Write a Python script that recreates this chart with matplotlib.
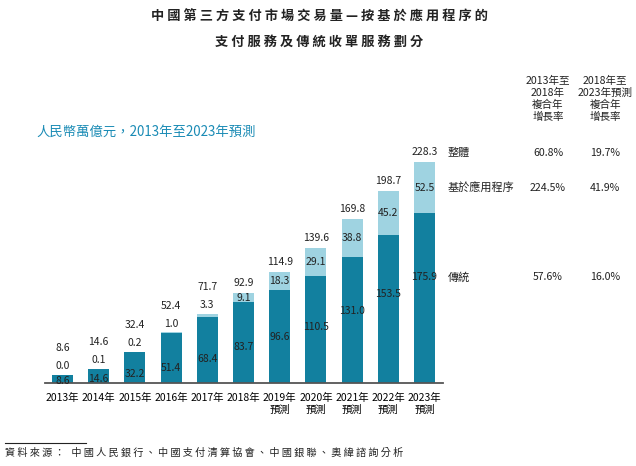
import matplotlib.pyplot as plt

plt.rcParams['font.family'] = ['Noto Sans CJK TC', 'DejaVu Sans']

# -----------------------------
# data (人民幣萬億元)
# -----------------------------
years = ['2013年', '2014年', '2015年', '2016年', '2017年', '2018年',
         '2019年\n預測', '2020年\n預測', '2021年\n預測', '2022年\n預測', '2023年\n預測']
traditional = [8.6, 14.6, 32.2, 51.4, 68.4, 83.7, 96.6, 110.5, 131.0, 153.5, 175.9]
app_based = [0.0, 0.1, 0.2, 1.0, 3.3, 9.1, 18.3, 29.1, 38.8, 45.2, 52.5]
totals = [8.6, 14.6, 32.4, 52.4, 71.7, 92.9, 114.9, 139.6, 169.8, 198.7, 228.3]

cagr_rows = ['整體', '基於應用程序', '傳統']
cagr_13_18 = ['60.8%', '224.5%', '57.6%']
cagr_18_23 = ['19.7%', '41.9%', '16.0%']

dark = '#12809f'
light = '#9fd3e1'
txt = '#222222'

W, H = 636, 466
fig = plt.figure(figsize=(W / 100, H / 100), dpi=100)
ax = fig.add_axes([45 / W, 83 / H, 398 / W, 241.4 / H])

x = range(len(years))
ax.bar(x, traditional, width=0.58, color=dark)
ax.bar(x, app_based, width=0.58, bottom=traditional, color=light)

for i in x:
    top = traditional[i] + app_based[i]
    # light segment label: above the bar when the segment is too thin
    if app_based[i] < 5:
        ax.annotate(f'{app_based[i]:.1f}', (i, top), xytext=(0, 6), textcoords='offset points',
                    ha='center', va='center', fontsize=7.5, color=txt)
        tot_off = 19
    else:
        ax.text(i, traditional[i] + app_based[i] / 2, f'{app_based[i]:.1f}',
                ha='center', va='center', fontsize=7.5, color=txt)
        tot_off = 7.5
    ax.annotate(f'{totals[i]:.1f}', (i, top), xytext=(0, tot_off), textcoords='offset points',
                ha='center', va='center', fontsize=7.5, color=txt)
    # dark segment label sits a bit above centre on tall bars
    ly = max(0.787 * traditional[i] - 28.7, 0.3 * traditional[i])
    ax.text(i, ly, f'{traditional[i]:.1f}', ha='center', va='center', fontsize=7.5, color=txt)

ax.set_xlim(-0.48, 10.51)
ax.set_ylim(0, 250)
ax.set_xticks(list(x))
ax.set_xticklabels(years, fontsize=7.5, linespacing=1.3)
ax.tick_params(axis='x', length=0, pad=7)
ax.set_yticks([])
for s in ['left', 'right', 'top']:
    ax.spines[s].set_visible(False)
ax.spines['bottom'].set_color('#555555')
ax.spines['bottom'].set_linewidth(1.3)


def px(xp, yp):
    return xp / W, 1 - yp / H


# titles
fig.text(*px(319, 17), ' '.join('中國第三方支付市場交易量—按基於應用程序的'),
         ha='center', va='center', fontsize=9.5, fontweight='bold', color=txt)
fig.text(*px(319, 42), ' '.join('支付服務及傳統收單服務劃分'),
         ha='center', va='center', fontsize=9.5, fontweight='bold', color=txt)
fig.text(*px(36, 132), '人民幣萬億元，2013年至2023年預測',
         ha='left', va='center', fontsize=9.6, color='#1a8bb5')

# CAGR table
fig.text(*px(548, 99), '2013年至\n2018年\n複合年\n增長率', ha='center', va='center',
         fontsize=7.6, linespacing=1.2, color=txt)
fig.text(*px(605, 99), '2018年至\n2023年預測\n複合年\n增長率', ha='center', va='center',
         fontsize=7.6, linespacing=1.2, color=txt)
row_y = [153, 188, 277]
for name, a, b, yy in zip(cagr_rows, cagr_13_18, cagr_18_23, row_y):
    fig.text(*px(448, yy), name, ha='left', va='center', fontsize=8, color=txt)
    fig.text(*px(548, yy), a, ha='center', va='center', fontsize=7.6, color=txt)
    fig.text(*px(605, yy), b, ha='center', va='center', fontsize=7.6, color=txt)

# source
fig.add_artist(plt.Line2D([5 / W, 86 / W], [1 - 443 / H, 1 - 443 / H], color=txt, linewidth=0.8))
fig.text(*px(5, 453), ' '.join('資料來源：') + '   ' + ' '.join('中國人民銀行、中國支付清算協會、中國銀聯、奧緯諮詢分析'),
         ha='left', va='center', fontsize=7.3, style='italic', color=txt)

fig.savefig('out.png', dpi=100)
